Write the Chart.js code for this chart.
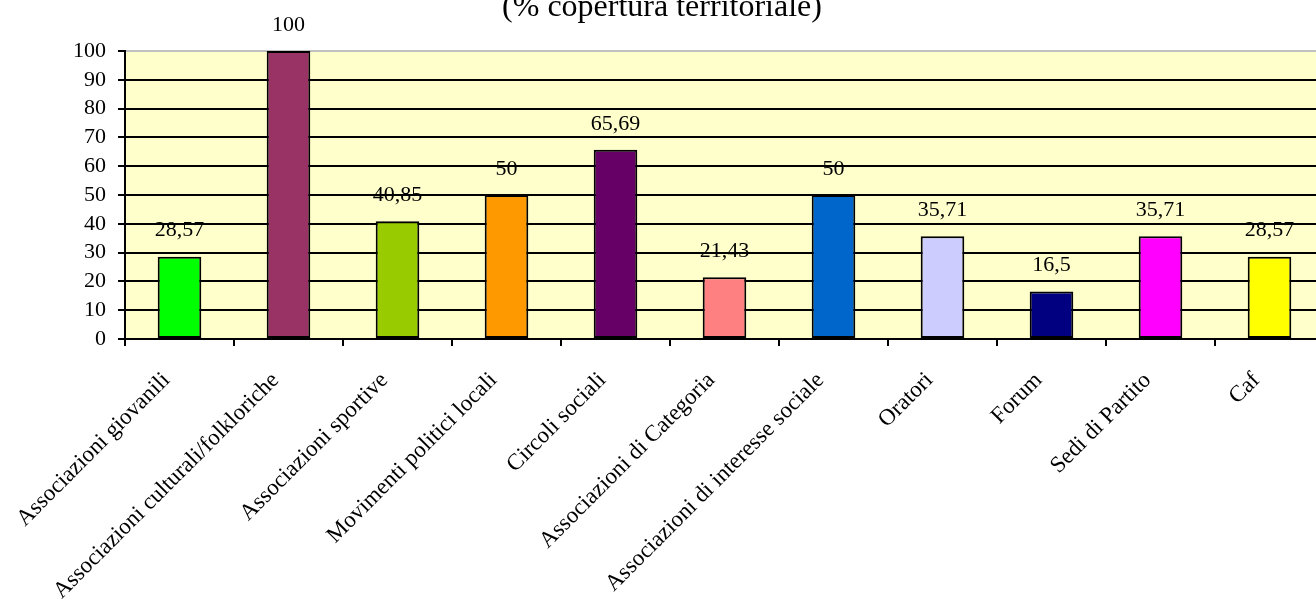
<!DOCTYPE html>
<html>
<head>
<meta charset="utf-8">
<script src="https://cdn.jsdelivr.net/npm/chart.js@4.4.1/dist/chart.umd.min.js"></script>
<style>
  html, body { margin: 0; padding: 0; overflow: hidden; background: #fff; }
  #wrap { width: 1330px; height: 603px; }
</style>
</head>
<body>
<div id="wrap"><canvas id="grafico" width="1330" height="603"></canvas></div>
<script>
// dati
const categorie = [
    'Associazioni giovanili',
    'Associazioni culturali/folkloriche',
    'Associazioni sportive',
    'Movimenti politici locali',
    'Circoli sociali',
    'Associazioni di Categoria',
    'Associazioni di interesse sociale',
    'Oratori',
    'Forum',
    'Sedi di Partito',
    'Caf'
];
const copertura = [28.57, 100, 40.85, 50, 65.69, 21.43, 50, 35.71, 16.5, 35.71, 28.57];
const coloriBarre = ['#00FF00', '#993366', '#99CC00', '#FF9900', '#660066', '#FF8080',
                     '#0066CC', '#CCCCFF', '#000080', '#FF00FF', '#FFFF00'];
const tickY = [0, 10, 20, 30, 40, 50, 60, 70, 80, 90, 100];

const font = 'Liberation Serif';

// sfondo giallo dell'area del grafico
const sfondoPlugin = {
    id: 'sfondo',
    beforeDraw(chart) {
        const a = chart.chartArea;
        const ctx = chart.ctx;
        ctx.save();
        ctx.fillStyle = '#FFFFCC';
        ctx.fillRect(a.left, a.top, a.right - a.left, a.bottom - a.top);
        ctx.restore();
    }
};

// etichette dei valori sopra le barre
const valoriPlugin = {
    id: 'valori',
    afterDatasetsDraw(chart) {
        const ctx = chart.ctx;
        const meta = chart.getDatasetMeta(0);
        ctx.save();
        ctx.font = '22px "' + font + '"';
        ctx.fillStyle = '#000';
        ctx.textAlign = 'center';
        ctx.textBaseline = 'middle';
        meta.data.forEach((bar, i) => {
            const testo = String(copertura[i]).replace('.', ',');
            ctx.fillText(testo, bar.x, bar.y - 26);
        });
        ctx.restore();
    }
};

const ctx = document.getElementById('grafico').getContext('2d');
new Chart(ctx, {
    type: 'bar',
    data: {
        labels: categorie,
        datasets: [{
            data: copertura,
            backgroundColor: coloriBarre,
            borderColor: '#000',
            borderWidth: 2,
            borderSkipped: false,
            barPercentage: 0.4,
            categoryPercentage: 1
        }]
    },
    options: {
        responsive: false,
        animation: false,
        devicePixelRatio: 1,
        layout: { padding: { left: 0, right: 6, top: 0, bottom: 0 } },
        plugins: {
            legend: { display: false },
            tooltip: { enabled: false },
            title: {
                display: true,
                text: '(% copertura territoriale)',
                color: '#000',
                font: { family: font, size: 32, weight: 'normal', lineHeight: 1 },
                padding: { top: -8, bottom: 27 }
            }
        },
        scales: {
            x: {
                grid: {
                    drawOnChartArea: false,
                    drawTicks: true,
                    tickLength: 7,
                    color: '#000',
                    lineWidth: 2
                },
                border: { color: '#000', width: 2 },
                ticks: {
                    autoSkip: false,
                    minRotation: 45,
                    maxRotation: 45,
                    padding: 21,
                    labelOffset: -13,
                    color: '#000',
                    font: { family: font, size: 23 }
                },
                afterFit(scale) { scale.height = 264; }
            },
            y: {
                min: 0,
                max: 100,
                afterBuildTicks(scale) {
                    scale.ticks = tickY.map(v => ({ value: v }));
                },
                grid: {
                    color: c => (c.tick && c.tick.value === 100) ? '#C0C0C0' : '#000',
                    tickColor: '#000',
                    lineWidth: 2,
                    tickLength: 7
                },
                border: { color: '#000', width: 2 },
                ticks: {
                    autoSkip: false,
                    padding: 12,
                    color: '#000',
                    font: { family: font, size: 22 }
                },
                afterFit(scale) { scale.width = 125; }
            }
        }
    },
    plugins: [sfondoPlugin, valoriPlugin]
});
</script>
</body>
</html>
